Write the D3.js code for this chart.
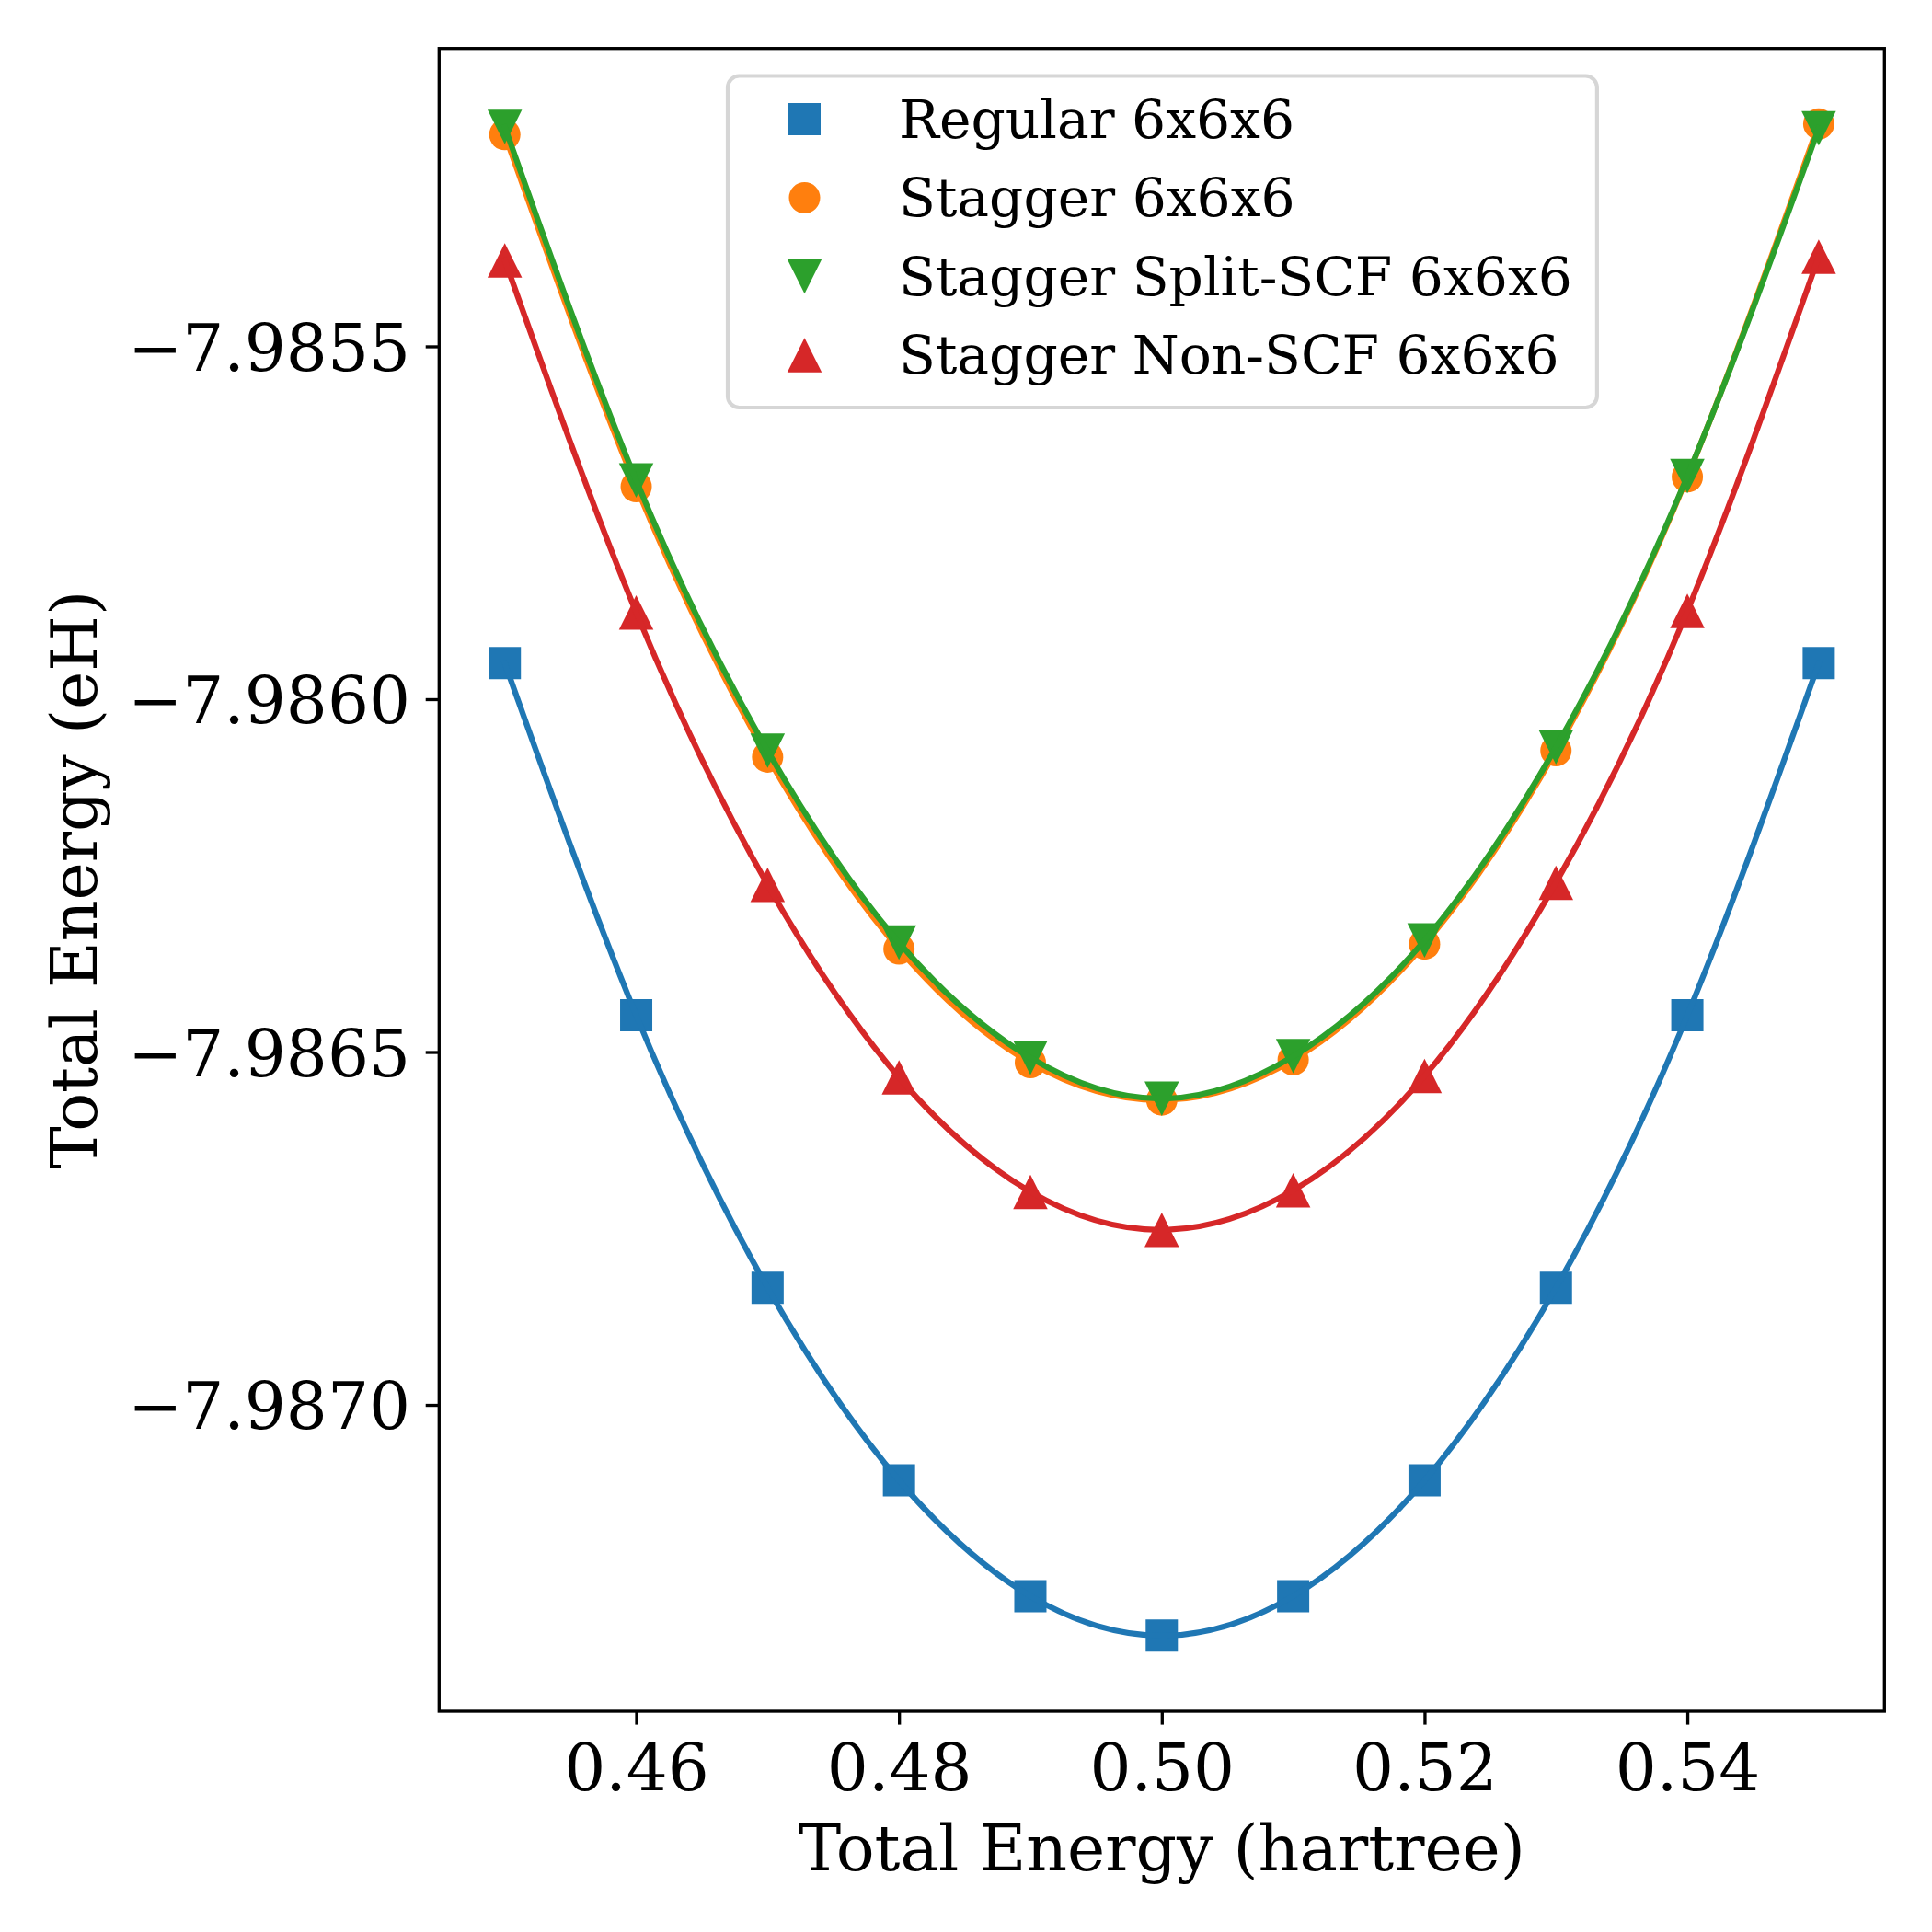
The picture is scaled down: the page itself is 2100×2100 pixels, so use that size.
<!DOCTYPE html>
<html>
<head>
<meta charset="utf-8">
<script src="https://cdn.jsdelivr.net/npm/d3@7"></script>
<style>
  html, body { margin: 0; padding: 0; background: #ffffff; }
  svg { display: block; }
</style>
</head>
<body>
<script>
// ---------------- data ----------------
const xValues = [0.45, 0.46, 0.47, 0.48, 0.49, 0.50, 0.51, 0.52, 0.53, 0.54, 0.55];
const regular6 = [-7.985949, -7.986448, -7.986834, -7.987107, -7.987271, -7.987327, -7.987271, -7.987107, -7.986834, -7.986448, -7.985949];
const stagger6 = [-7.985200, -7.985699, -7.986082, -7.986354, -7.986515, -7.986568, -7.986511, -7.986347, -7.986073, -7.985685, -7.985185];
const staggerSplit6 = [-7.985189, -7.985690, -7.986073, -7.986345, -7.986508, -7.986566, -7.986506, -7.986342, -7.986068, -7.985684, -7.985191];
const staggerNonScf6 = [-7.985378, -7.985877, -7.986263, -7.986536, -7.986698, -7.986752, -7.986696, -7.986534, -7.986260, -7.985875, -7.985373];
const seriesLabels = ["Regular 6x6x6", "Stagger 6x6x6", "Stagger Split-SCF 6x6x6", "Stagger Non-SCF 6x6x6"];
const xTickValues = [0.46, 0.48, 0.50, 0.52, 0.54];
const yTickValues = [-7.9855, -7.9860, -7.9865, -7.9870];
const xAxisLabel = "Total Energy (hartree)";
const yAxisLabel = "Total Energy (eH)";

// ---------------- styles ----------------
const W = 2100, H = 2100;
const plot = { left: 477.3, right: 2048.3, top: 52.7, bottom: 1860 };
const colors = ["#1f77b4", "#ff7f0e", "#2ca02c", "#d62728"];
const markers = ["square", "circle", "triDown", "triUp"];
const FONT = "'DejaVu Serif', 'Liberation Serif', serif";
const tickFont = 70.8, labelFont = 69.6, legendFont = 58.3;
const lineW = 6.25, spineW = 3.33, tickLen = 14.6;

const seriesData = [regular6, stagger6, staggerSplit6, staggerNonScf6];

const svg = d3.select("body").append("svg")
  .attr("width", W).attr("height", H)
  .attr("viewBox", `0 0 ${W} ${H}`);
svg.append("rect").attr("width", W).attr("height", H).attr("fill", "#fff");

// scales with matplotlib-like 5% margins
const xExt = d3.extent(xValues);
const xPad = (xExt[1] - xExt[0]) * 0.05;
const x = d3.scaleLinear().domain([xExt[0] - xPad, xExt[1] + xPad]).range([plot.left, plot.right]);
const allY = seriesData.flat();
const yExt = d3.extent(allY);
const yPad = (yExt[1] - yExt[0]) * 0.05;
const y = d3.scaleLinear().domain([yExt[0] - yPad, yExt[1] + yPad]).range([plot.bottom, plot.top]);

// clip
svg.append("defs").append("clipPath").attr("id", "clip")
  .append("rect").attr("x", plot.left).attr("y", plot.top)
  .attr("width", plot.right - plot.left).attr("height", plot.bottom - plot.top);

function markerPath(type, size) {
  const h = size / 2;
  if (type === "square") return `M${-h},${-h}H${h}V${h}H${-h}Z`;
  if (type === "circle") return `M${h},0A${h},${h} 0 1,1 ${-h},0A${h},${h} 0 1,1 ${h},0Z`;
  if (type === "triDown") return `M0,${h}L${-h},${-h}L${h},${-h}Z`;
  if (type === "triUp") return `M0,${-h}L${-h},${h}L${h},${h}Z`;
}
const markerSizes = { square: 35, circle: 34, triDown: 37.5, triUp: 37.5 };

const gData = svg.append("g").attr("clip-path", "url(#clip)");
const line = d3.line().x((d, i) => x(xValues[i])).y(d => y(d)).curve(d3.curveNatural);

seriesData.forEach((vals, si) => {
  gData.append("g").selectAll("path").data(vals).join("path")
    .attr("d", markerPath(markers[si], markerSizes[markers[si]]))
    .attr("transform", (d, i) => `translate(${x(xValues[i])},${y(d)})`)
    .attr("fill", colors[si]);
  gData.append("path").datum(vals)
    .attr("d", line)
    .attr("fill", "none")
    .attr("stroke", colors[si])
    .attr("stroke-width", lineW)
    .attr("stroke-linecap", "square");
});

// axes
const xAxis = d3.axisBottom(x).tickValues(xTickValues).tickFormat(d3.format(".2f"))
  .tickSize(tickLen).tickPadding(14.6);
const gx = svg.append("g").attr("transform", `translate(0,${plot.bottom})`).call(xAxis);
gx.select(".domain").remove();
gx.selectAll(".tick line").attr("stroke", "#000").attr("stroke-width", spineW);
gx.selectAll(".tick text").attr("y", 85.5).attr("dy", 0)
  .attr("font-family", FONT).attr("font-size", tickFont).attr("fill", "#000");

const yAxis = d3.axisLeft(y).tickValues(yTickValues).tickFormat(d3.format(".4f"))
  .tickSize(tickLen).tickPadding(14.6);
const gy = svg.append("g").attr("transform", `translate(${plot.left},0)`).call(yAxis);
gy.select(".domain").remove();
gy.selectAll(".tick line").attr("stroke", "#000").attr("stroke-width", spineW);
gy.selectAll(".tick text").attr("x", -31.3).attr("dy", "0.3645em")
  .attr("font-family", FONT).attr("font-size", tickFont).attr("fill", "#000");

// spines
svg.append("rect")
  .attr("x", plot.left).attr("y", plot.top)
  .attr("width", plot.right - plot.left).attr("height", plot.bottom - plot.top)
  .attr("fill", "none").attr("stroke", "#000").attr("stroke-width", spineW)
  .attr("stroke-linejoin", "miter");

// axis labels
svg.append("text")
  .attr("x", (plot.left + plot.right) / 2).attr("y", 2033)
  .attr("text-anchor", "middle")
  .attr("font-family", FONT).attr("font-size", labelFont).attr("fill", "#000")
  .text(xAxisLabel);
svg.append("text")
  .attr("transform", `translate(105,${(plot.top + plot.bottom) / 2}) rotate(-90)`)
  .attr("text-anchor", "middle")
  .attr("font-family", FONT).attr("font-size", labelFont).attr("fill", "#000")
  .text(yAxisLabel);

// legend
const leg = { left: 791, top: 82.5, bottom: 443, markerX: 874.5, textX: 977, row0: 129.5, rowStep: 85.5 };
const gLeg = svg.append("g");
const legBox = gLeg.append("rect")
  .attr("x", leg.left).attr("y", leg.top)
  .attr("height", leg.bottom - leg.top)
  .attr("rx", 12.5).attr("ry", 12.5)
  .attr("fill", "#fff").attr("fill-opacity", 0.8)
  .attr("stroke", "#cccccc").attr("stroke-opacity", 0.8).attr("stroke-width", 4.17);
let maxLen = 0;
seriesLabels.forEach((lab, si) => {
  const cy = leg.row0 + si * leg.rowStep;
  gLeg.append("path")
    .attr("d", markerPath(markers[si], markerSizes[markers[si]]))
    .attr("transform", `translate(${leg.markerX},${cy})`)
    .attr("fill", colors[si]);
  const t = gLeg.append("text")
    .attr("x", leg.textX).attr("y", cy + 20)
    .attr("font-family", FONT).attr("font-size", legendFont).attr("fill", "#000")
    .text(lab);
  maxLen = Math.max(maxLen, t.node().getComputedTextLength());
});
legBox.attr("width", leg.textX + maxLen + 27 - leg.left);
</script>
</body>
</html>
